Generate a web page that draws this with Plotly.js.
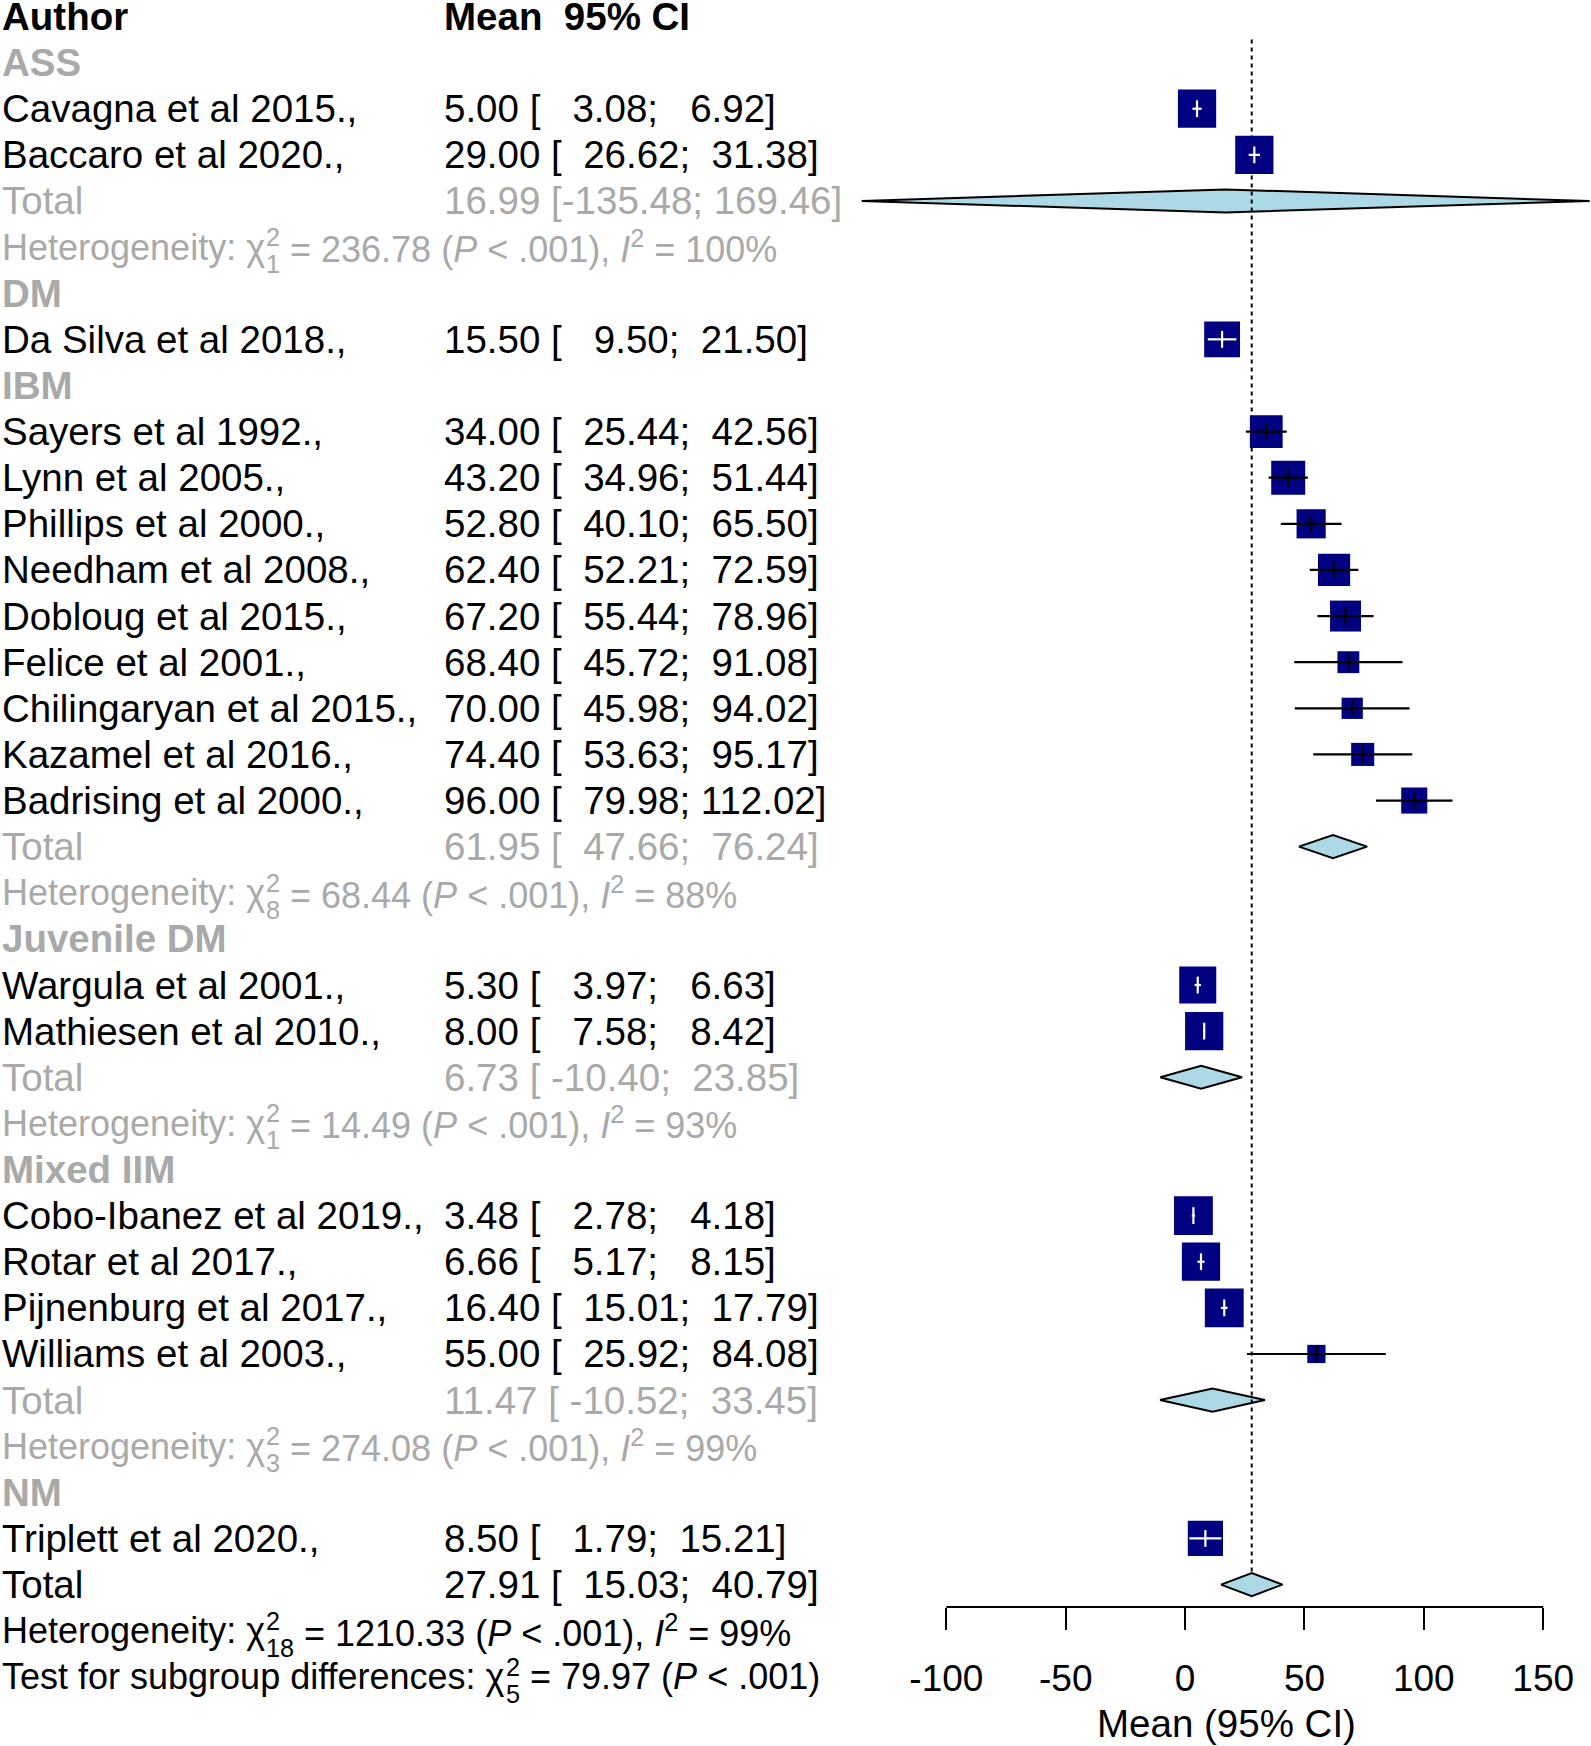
<!DOCTYPE html>
<html>
<head>
<meta charset="utf-8">
<script src="https://cdn.plot.ly/plotly-3.0.1.min.js"></script>
<style>
html, body { margin: 0; padding: 0; background: #ffffff; }
#chart { width: 1591px; height: 1746px; }
</style>
</head>
<body>
<div id="chart"></div>
<script>
// ------------------------- DATA -------------------------
const groupNames = ["ASS", "DM", "IBM", "Juvenile DM", "Mixed IIM", "NM"];

const studyLabels = [
  "Cavagna et al 2015.,", "Baccaro et al 2020.,",
  "Da Silva et al 2018.,",
  "Sayers et al 1992.,", "Lynn et al 2005.,", "Phillips et al 2000.,", "Needham et al 2008.,",
  "Dobloug et al 2015.,", "Felice et al 2001.,", "Chilingaryan et al 2015.,", "Kazamel et al 2016.,",
  "Badrising et al 2000.,",
  "Wargula et al 2001.,", "Mathiesen et al 2010.,",
  "Cobo-Ibanez et al 2019.,", "Rotar et al 2017.,", "Pijnenburg et al 2017.,", "Williams et al 2003.,",
  "Triplett et al 2020.,"
];
const studyGroup  = [0, 0, 1, 2, 2, 2, 2, 2, 2, 2, 2, 2, 3, 3, 4, 4, 4, 4, 5];
const studyMean   = [5.00, 29.00, 15.50, 34.00, 43.20, 52.80, 62.40, 67.20, 68.40, 70.00, 74.40, 96.00, 5.30, 8.00, 3.48, 6.66, 16.40, 55.00, 8.50];
const studyLower  = [3.08, 26.62, 9.50, 25.44, 34.96, 40.10, 52.21, 55.44, 45.72, 45.98, 53.63, 79.98, 3.97, 7.58, 2.78, 5.17, 15.01, 25.92, 1.79];
const studyUpper  = [6.92, 31.38, 21.50, 42.56, 51.44, 65.50, 72.59, 78.96, 91.08, 94.02, 95.17, 112.02, 6.63, 8.42, 4.18, 8.15, 17.79, 84.08, 15.21];
const studyWeight = [6.3, 6.3, 5.9, 5.4, 5.6, 4.8, 5.3, 5.1, 3.6, 3.5, 3.8, 4.3, 6.1, 6.3, 6.4, 6.3, 6.4, 3.0, 5.8];

const groupMean  = [16.99, null, 61.95, 6.73, 11.47, null];
const groupLower = [-135.48, null, 47.66, -10.40, -10.52, null];
const groupUpper = [169.46, null, 76.24, 23.85, 33.45, null];
const groupChi2  = [236.78, null, 68.44, 14.49, 274.08, null];
const groupDf    = [1, null, 8, 1, 3, null];
const groupI2    = [100, null, 88, 93, 99, null];

const overallMean = 27.91, overallLower = 15.03, overallUpper = 40.79;
const overallChi2 = 1210.33, overallDf = 18, overallI2 = 99;
const subgroupChi2 = 79.97, subgroupDf = 5;

const tickVals = [-100, -50, 0, 50, 100, 150];
const tickText = ["-100", "-50", "0", "50", "100", "150"];
const xTitle = "Mean (95% CI)";

// ------------------------- LAYOUT CONSTANTS -------------------------
const W = 1591, H = 1746;
const FONT = "Liberation Sans, Arial, Helvetica, sans-serif";
const FS_MAIN = 38.5, FS_HET = 36, FS_TICK = 37;
const GREY = "#A9A9A9";
const zeroPx = 1185.1, pxPerUnit = 2.3872;
const rowTop = 16.5, rowH = 46.12, plotBottom = 1607;
const colLabelPx = 0, colCIPx = 442;
const sizePerWeight = 6.07;
const NB = "\u00A0";

const ctx = document.createElement("canvas").getContext("2d");
function textW(s, size) { ctx.font = size + "px 'Liberation Sans'"; return ctx.measureText(s).width; }

function fmt(v) { return v.toFixed(2); }
const allLower = studyLower.concat(groupLower.filter(v => v !== null), [overallLower]);
const allUpper = studyUpper.concat(groupUpper.filter(v => v !== null), [overallUpper]);
const wL = Math.max(...allLower.map(v => fmt(v).length));
const wU = Math.max(...allUpper.map(v => fmt(v).length));
function pad(s, w) { return NB.repeat(Math.max(0, w - s.length)) + s; }
function ciText(m, l, u) { return fmt(m) + NB + "[" + pad(fmt(l), wL) + ";" + NB + pad(fmt(u), wU) + "]"; }

const py = r => rowTop + rowH * r;
const paperY = p => (plotBottom - p) / plotBottom;
const paperX = p => p / W;

const annotations = [];
function addText(text, xpx, row, o) {
  o = o || {};
  annotations.push({
    text: text, x: paperX(xpx), y: paperY(py(row)), xref: "paper", yref: "paper",
    xanchor: o.anchor || "left", yanchor: "middle", showarrow: false, align: "left",
    yshift: o.yshift || 0,
    font: { family: FONT, size: o.size || FS_MAIN, color: o.color || "#000000" }
  });
}
function addStat(prefix, df, rest, row, color) {
  const x0 = colLabelPx;
  addText(prefix, x0, row, { size: FS_HET, color: color });
  const wPre = textW(prefix, FS_HET);
  const sFs = FS_HET * 0.7;
  const xs = x0 + wPre + 1;
  addText("2", xs, row, { size: sFs, color: color, yshift: 10 });
  addText(String(df), xs, row, { size: sFs, color: color, yshift: -17 });
  const wS = Math.max(textW("2", sFs), textW(String(df), sFs));
  addText(rest, xs + wS, row, { size: FS_HET, color: color });
}

// ------------------------- BUILD ROWS -------------------------
let row = 0;
addText("<b>Author</b>", colLabelPx, row);
addText("<b>Mean" + NB + NB + "95% CI</b>", colCIPx, row);
row++;

const studyRow = new Array(studyLabels.length);
const dx = [], dy = [];
function addDiamond(m, l, u, r) { dx.push(l, m, u, m, l, null); dy.push(r, r - 0.25, r, r + 0.25, r, null); }

groupNames.forEach((g, gi) => {
  addText("<b>" + g + "</b>", colLabelPx, row, { color: GREY });
  row++;
  studyLabels.forEach((lab, si) => {
    if (studyGroup[si] !== gi) return;
    studyRow[si] = row;
    addText(lab, colLabelPx, row);
    addText(ciText(studyMean[si], studyLower[si], studyUpper[si]), colCIPx, row);
    row++;
  });
  if (groupMean[gi] !== null) {
    addText("Total", colLabelPx, row, { color: GREY });
    addText(ciText(groupMean[gi], groupLower[gi], groupUpper[gi]), colCIPx, row, { color: GREY });
    addDiamond(groupMean[gi], groupLower[gi], groupUpper[gi], row);
    row++;
    addStat("Heterogeneity: χ", groupDf[gi],
      NB + "= " + fmt(groupChi2[gi]) + " (<i>P</i> &lt; .001), <i>I</i><sup>2</sup> = " + groupI2[gi] + "%",
      row, GREY);
    row++;
  }
});
const overallRow = row;
addText("Total", colLabelPx, row);
addText(ciText(overallMean, overallLower, overallUpper), colCIPx, row);
addDiamond(overallMean, overallLower, overallUpper, row);
row++;
addStat("Heterogeneity: χ", overallDf,
  NB + "= " + fmt(overallChi2) + " (<i>P</i> &lt; .001), <i>I</i><sup>2</sup> = " + overallI2 + "%", row, "#000000");
row++;
addStat("Test for subgroup differences: χ", subgroupDf,
  NB + "= " + fmt(subgroupChi2) + " (<i>P</i> &lt; .001)", row, "#000000");

// axis title
annotations.push({
  text: xTitle, x: paperX(1226), y: paperY(1723), xref: "paper", yref: "paper",
  xanchor: "center", yanchor: "middle", showarrow: false,
  font: { family: FONT, size: FS_MAIN, color: "#000000" }
});

// ------------------------- TRACES -------------------------
const sizes = studyWeight.map(w => w * sizePerWeight);
const bx = [], by = [], wx = [], wy = [];
const tbx = [], tby = [], twx = [], twy = [];
studyMean.forEach((m, i) => {
  const inside = (studyUpper[i] - studyLower[i]) * pxPerUnit < sizes[i];
  const lx = inside ? wx : bx, ly = inside ? wy : by;
  lx.push(studyLower[i], studyUpper[i], null); ly.push(studyRow[i], studyRow[i], null);
  (inside ? twx : tbx).push(m); (inside ? twy : tby).push(studyRow[i]);
});

const traces = [
  { type: "scatter", mode: "lines", x: dx, y: dy, fill: "toself", fillcolor: "#ADD8E6",
    line: { color: "#000000", width: 2 }, hoverinfo: "skip" },
  { type: "scatter", mode: "lines", x: [overallMean, overallMean], y: [0.5, overallRow - 0.25],
    line: { color: "#000000", width: 2, dash: "4px,4px" }, hoverinfo: "skip" },
  { type: "scatter", mode: "markers", x: studyMean, y: studyRow,
    marker: { symbol: "square", size: sizes, color: "#000080", opacity: 1, line: { width: 0 } }, hoverinfo: "skip" },
  { type: "scatter", mode: "lines", x: bx, y: by, line: { color: "#000000", width: 2.2 }, hoverinfo: "skip" },
  { type: "scatter", mode: "lines", x: wx, y: wy, line: { color: "#ffffff", width: 2.2 }, hoverinfo: "skip" },
  { type: "scatter", mode: "markers", x: tbx, y: tby,
    marker: { symbol: "line-ns", size: 12, opacity: 1, line: { color: "#000000", width: 2.2 } }, hoverinfo: "skip" },
  { type: "scatter", mode: "markers", x: twx, y: twy,
    marker: { symbol: "line-ns", size: 12, opacity: 1, line: { color: "#ffffff", width: 2.2 } }, hoverinfo: "skip" }
];

const layout = {
  width: W, height: H,
  margin: { l: 0, r: 0, t: 0, b: H - plotBottom, pad: 0 },
  paper_bgcolor: "#ffffff", plot_bgcolor: "rgba(0,0,0,0)", showlegend: false,
  xaxis: {
    range: [-zeroPx / pxPerUnit, (W - zeroPx) / pxPerUnit],
    showgrid: false, zeroline: false, showline: false,
    ticks: "outside", ticklen: 22, tickwidth: 2, tickcolor: "#000000",
    tickmode: "array", tickvals: tickVals, ticktext: tickText,
    tickfont: { family: FONT, size: FS_TICK, color: "#000000" },
    ticklabelstandoff: 17, fixedrange: true
  },
  yaxis: { range: [(plotBottom - rowTop) / rowH, -rowTop / rowH], visible: false, fixedrange: true },
  shapes: [{ type: "line", xref: "x", yref: "paper", x0: tickVals[0], x1: tickVals[tickVals.length - 1],
             y0: 0, y1: 0, line: { color: "#000000", width: 2 } }],
  annotations: annotations
};

Plotly.newPlot("chart", traces, layout, { staticPlot: true, displayModeBar: false });
</script>
</body>
</html>
